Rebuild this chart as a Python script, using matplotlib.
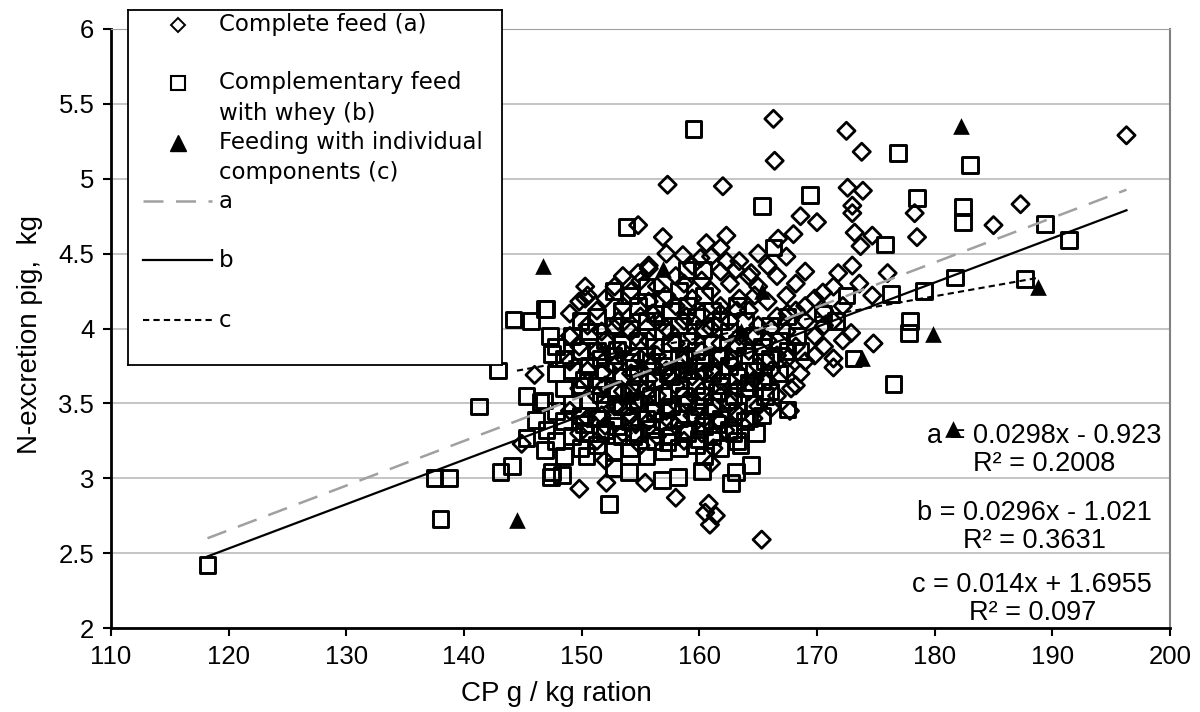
import matplotlib.pyplot as plt
import numpy as np

# ---- data ----
# series a : complete feed (diamonds)
a_x = [166.3, 166.4, 157.3, 162.0, 154.8, 156.9, 172.6, 173.9, 173.0, 173.0, 168.6, 170.0,
       178.5, 178.3, 173.2, 174.7, 173.7, 168.0, 166.7, 173.0, 171.8, 170.5, 174.7, 173.6,
       172.9, 171.4, 168.6, 167.8, 167.7, 174.8, 196.3, 185.0, 187.3, 176.0, 172.5, 173.8,
       158.6, 160.6, 162.3, 161.8, 160.1, 162.3, 163.1, 164.4, 155.7, 154.8, 150.3, 150.3,
       146.0, 144.9, 149.8, 152.1, 155.4, 158.0, 160.8, 160.5, 161.4, 160.9, 165.3, 161.0,
       161.2, 164.6, 162.2, 166.1,
       149.0, 149.0, 149.0, 149.0, 149.8, 149.8, 149.8, 149.8, 150.5, 150.5, 150.5, 150.5,
       151.3, 151.3, 151.3, 151.3, 152.0, 152.0, 152.0, 152.0, 152.0, 152.8, 152.8, 152.8, 152.8,
       153.5, 153.5, 153.5, 153.5, 153.5, 154.2, 154.2, 154.2, 154.2,
       155.0, 155.0, 155.0, 155.0, 155.0, 155.7, 155.7, 155.7, 155.7, 155.7,
       156.4, 156.4, 156.4, 156.4, 156.4, 157.2, 157.2, 157.2, 157.2, 157.2,
       158.0, 158.0, 158.0, 158.0, 158.0, 158.7, 158.7, 158.7, 158.7, 158.7,
       159.4, 159.4, 159.4, 159.4, 159.4, 160.2, 160.2, 160.2, 160.2, 160.2,
       161.0, 161.0, 161.0, 161.0, 161.0, 161.8, 161.8, 161.8, 161.8, 161.8,
       162.6, 162.6, 162.6, 162.6, 163.4, 163.4, 163.4, 163.4, 163.4,
       164.2, 164.2, 164.2, 164.2, 165.0, 165.0, 165.0, 165.0, 165.0,
       165.8, 165.8, 165.8, 165.8, 166.6, 166.6, 166.6, 166.6,
       167.4, 167.4, 167.4, 167.4, 168.2, 168.2, 168.2, 168.2, 169.0, 169.0, 169.0, 169.0,
       169.8, 169.8, 169.8, 170.6, 170.6, 170.6, 171.4, 171.4, 171.4, 172.2, 172.2,
       151.7, 151.7, 151.7, 153.1, 153.1, 153.1, 154.6, 154.6, 154.6, 156.0, 156.0, 156.0,
       157.5, 157.5, 157.5, 158.9, 158.9, 158.9, 160.4, 160.4, 160.4, 161.8, 161.8, 161.8,
       163.2, 163.2, 163.2, 164.7, 164.7, 164.7, 166.1, 166.1, 167.5, 167.5]
a_y = [5.40, 5.12, 4.96, 4.95, 4.69, 4.61, 4.94, 4.92, 4.82, 4.77, 4.75, 4.71,
       4.61, 4.77, 4.64, 4.62, 4.55, 4.63, 4.60, 4.42, 4.37, 4.24, 4.22, 4.30,
       3.97, 3.74, 3.70, 3.60, 3.45, 3.90, 5.29, 4.69, 4.83, 4.37, 5.32, 5.18,
       4.49, 4.57, 4.62, 4.54, 4.47, 4.45, 4.39, 4.37, 4.42, 4.37, 4.28, 4.20,
       3.69, 3.23, 2.93, 2.97, 2.97, 2.87, 2.83, 2.77, 2.75, 2.69, 2.59, 3.10,
       3.20, 3.40, 3.32, 3.47,
       3.45, 3.78, 3.95, 4.10, 3.30, 3.60, 3.88, 4.18, 3.40, 3.72, 4.02, 4.22,
       3.25, 3.55, 3.85, 4.12, 3.35, 3.62, 3.92, 4.20, 3.12, 3.48, 3.75, 4.00, 4.28,
       3.30, 3.58, 3.85, 4.15, 4.35, 3.42, 3.70, 3.98, 4.25,
       3.22, 3.52, 3.80, 4.08, 4.32, 3.38, 3.66, 3.92, 4.18, 4.40,
       3.28, 3.55, 3.82, 4.05, 4.28, 3.45, 3.72, 4.00, 4.22, 4.50,
       3.35, 3.62, 3.90, 4.15, 4.35, 3.25, 3.50, 3.78, 4.05, 4.30,
       3.42, 3.68, 3.95, 4.20, 4.42, 3.30, 3.58, 3.85, 4.10, 4.32,
       3.45, 3.72, 4.00, 4.25, 4.48, 3.38, 3.65, 3.90, 4.15, 4.38,
       3.50, 3.78, 4.05, 4.30, 3.42, 3.70, 3.95, 4.20, 4.45,
       3.58, 3.85, 4.12, 4.35, 3.48, 3.75, 4.02, 4.28, 4.50,
       3.65, 3.92, 4.18, 4.42, 3.55, 3.82, 4.08, 4.35,
       3.72, 3.98, 4.22, 4.48, 3.88, 4.12, 4.30, 3.62, 3.78, 4.05, 4.38, 4.15,
       3.95, 4.20, 3.82, 3.88, 4.12, 4.02, 3.80, 4.05, 4.28, 3.92, 4.15,
       3.42, 3.70, 3.98, 3.48, 3.78, 4.05, 3.36, 3.64, 3.94, 3.46, 3.76, 4.10,
       3.38, 3.68, 3.98, 3.52, 3.82, 4.08, 3.40, 3.70, 3.98, 3.55, 3.82, 4.10,
       3.60, 3.88, 4.12, 3.66, 3.95, 4.22, 3.72, 4.00, 3.80, 4.10]

# series b : complementary feed with whey (squares)
b_x = [118.2, 137.5, 138.7, 138.0, 141.3, 142.9, 143.1, 144.1, 144.2, 145.7, 146.9, 147.3,
       147.5, 145.3, 146.5, 146.1, 147.0, 145.3, 147.4, 146.9, 147.5, 148.3, 150.4, 152.3,
       152.7, 154.0, 156.8, 158.2, 160.2, 162.7, 163.1, 164.4, 159.5, 165.3, 153.8, 169.4,
       176.9, 178.5, 183.0, 182.4, 182.4, 189.4, 191.4, 181.7, 187.7, 179.1, 176.3, 177.9,
       177.8, 173.1, 176.5, 175.8, 172.5, 170.5, 171.6, 168.6, 167.5, 158.9, 160.3, 166.3,
       147.0, 146.8,
       147.8, 147.8, 147.8, 147.8, 148.5, 148.5, 148.5, 148.5, 149.2, 149.2, 149.2, 149.2,
       149.9, 149.9, 149.9, 149.9, 149.9, 150.6, 150.6, 150.6, 150.6,
       151.3, 151.3, 151.3, 151.3, 151.3, 152.0, 152.0, 152.0, 152.0,
       152.7, 152.7, 152.7, 152.7, 152.7, 152.7, 153.4, 153.4, 153.4, 153.4, 153.4,
       154.1, 154.1, 154.1, 154.1, 154.1, 154.1, 154.8, 154.8, 154.8, 154.8, 154.8,
       155.5, 155.5, 155.5, 155.5, 155.5, 155.5, 156.2, 156.2, 156.2, 156.2, 156.2,
       156.9, 156.9, 156.9, 156.9, 156.9, 156.9, 157.6, 157.6, 157.6, 157.6, 157.6,
       158.3, 158.3, 158.3, 158.3, 158.3, 158.3, 159.0, 159.0, 159.0, 159.0, 159.0,
       159.7, 159.7, 159.7, 159.7, 159.7, 160.4, 160.4, 160.4, 160.4, 160.4, 160.4,
       161.1, 161.1, 161.1, 161.1, 161.1, 161.8, 161.8, 161.8, 161.8, 161.8,
       162.5, 162.5, 162.5, 162.5, 163.2, 163.2, 163.2, 163.2, 163.2,
       163.9, 163.9, 163.9, 163.9, 164.6, 164.6, 164.6, 165.3, 165.3, 165.3,
       166.0, 166.0, 166.0, 166.8, 166.8, 167.5, 167.5, 168.3, 164.8, 163.5,
       150.2, 150.2, 151.6, 151.6, 151.6, 153.0, 153.0, 153.0, 154.4, 154.4, 154.4,
       155.9, 155.9, 155.9, 157.3, 157.3, 157.3, 158.7, 158.7, 158.7, 160.0, 160.0, 160.0,
       161.5, 161.5, 161.5, 162.9, 162.9, 162.9, 164.2, 164.2, 165.6, 165.6]
b_y = [2.42, 3.00, 3.00, 2.73, 3.48, 3.72, 3.04, 3.08, 4.06, 4.05, 4.13, 3.95,
       3.83, 3.55, 3.51, 3.39, 3.32, 3.27, 3.01, 3.19, 3.04, 3.02, 3.15, 2.83,
       3.07, 3.04, 2.99, 3.01, 3.05, 2.97, 3.04, 3.09, 5.33, 4.82, 4.68, 4.89,
       5.17, 4.87, 5.09, 4.81, 4.71, 4.70, 4.59, 4.34, 4.33, 4.25, 4.23, 4.05,
       3.97, 3.80, 3.63, 4.56, 4.22, 4.10, 4.05, 3.85, 3.46, 4.39, 4.39, 4.54,
       4.13, 3.52,
       3.25, 3.45, 3.70, 3.88, 3.15, 3.38, 3.60, 3.80, 3.28, 3.50, 3.72, 3.95,
       3.20, 3.42, 3.62, 3.85, 4.05, 3.30, 3.52, 3.75, 3.98,
       3.22, 3.40, 3.62, 3.85, 4.08, 3.32, 3.50, 3.72, 3.92,
       3.18, 3.40, 3.60, 3.82, 4.02, 4.25, 3.28, 3.48, 3.68, 3.90, 4.12,
       3.20, 3.38, 3.58, 3.78, 4.00, 4.22, 3.30, 3.50, 3.70, 3.92, 4.15,
       3.15, 3.40, 3.60, 3.82, 4.05, 4.28, 3.25, 3.45, 3.65, 3.88, 4.10,
       3.18, 3.38, 3.55, 3.75, 3.98, 4.20, 3.28, 3.48, 3.68, 3.90, 4.12,
       3.20, 3.40, 3.60, 3.82, 4.02, 4.25, 3.30, 3.50, 3.72, 3.92, 4.15,
       3.22, 3.42, 3.62, 3.85, 4.08, 3.15, 3.35, 3.55, 3.78, 4.00, 4.22,
       3.28, 3.48, 3.70, 3.90, 4.12, 3.20, 3.40, 3.62, 3.82, 4.05,
       3.32, 3.52, 3.75, 3.98, 3.25, 3.45, 3.68, 3.90, 4.15,
       3.38, 3.60, 3.82, 4.05, 3.50, 3.72, 3.95, 3.42, 3.65, 3.88,
       3.58, 3.80, 4.02, 3.70, 3.92, 3.85, 4.08, 3.95, 3.30, 3.22,
       3.36, 3.66, 3.30, 3.56, 3.80, 3.35, 3.58, 3.86, 3.28, 3.52, 3.74,
       3.33, 3.55, 3.78, 3.24, 3.46, 3.70, 3.32, 3.55, 3.80, 3.26, 3.48, 3.72,
       3.36, 3.58, 3.82, 3.30, 3.55, 3.80, 3.40, 3.64, 3.55, 3.78]

# series c : feeding with individual components (triangles)
c_x = [146.7, 156.9, 144.5, 182.2, 188.8, 179.9, 173.8, 181.6, 165.3, 163.5, 159.0, 154.0]
c_y = [4.42, 4.40, 2.72, 5.35, 4.28, 3.96, 3.80, 3.33, 4.25, 3.98, 3.75, 3.55]

# trend lines (as printed on the chart)
fit_a = (0.0298, -0.923)
fit_b = (0.0296, -1.021)
fit_c = (0.014, 1.6955)
eq_a = "a = 0.0298x - 0.923\nR² = 0.2008"
eq_b = "b = 0.0296x - 1.021\nR² = 0.3631"
eq_c = "c = 0.014x + 1.6955\nR² = 0.097"

legend_labels = ["Complete feed (a)", "Complementary feed", "with whey (b)",
                 "Feeding with individual", "components (c)", "a", "b", "c"]

W, H = 1200, 712
fig = plt.figure(figsize=(12, 7.12), dpi=100)
ax = fig.add_axes([111 / W, 1 - 628 / H, (1170 - 111) / W, (628 - 29) / H])

grey = "#a0a0a0"
ax.scatter(a_x, a_y, marker="D", s=8.8 ** 2, facecolors="none", edgecolors="black",
           linewidths=2.0, zorder=3)
ax.scatter(b_x, b_y, marker="s", s=11.3 ** 2, facecolors="none", edgecolors="black",
           linewidths=2.1, zorder=3)
ax.scatter(c_x, c_y, marker="^", s=12 ** 2, color="black", linewidths=0, zorder=6)

all_x = a_x + b_x + c_x
xs = np.array([min(all_x), max(all_x)])
ax.plot(xs, fit_a[0] * xs + fit_a[1], color=grey, lw=1.8, dashes=(8, 5), zorder=4)
ax.plot(xs, fit_b[0] * xs + fit_b[1], color="black", lw=1.6, zorder=4)
xc = np.array([min(c_x), max(c_x)])
ax.plot(xc, fit_c[0] * xc + fit_c[1], color="black", lw=1.5, dashes=(3, 2), zorder=4)

eq_font = dict(family="Liberation Sans", fontsize=19.5, ha="center", va="center",
               linespacing=1.12, zorder=5)
ax.text(189.3, 3.19, eq_a, **eq_font)
ax.text(188.5, 2.675, eq_b, **eq_font)
ax.text(188.3, 2.195, eq_c, **eq_font)

ax.set_xlim(110, 200)
ax.set_ylim(2, 6)
ax.set_xticks(np.arange(110, 201, 10))
ax.set_yticks(np.arange(2, 6.01, 0.5))
ax.set_yticklabels(["2", "2.5", "3", "3.5", "4", "4.5", "5", "5.5", "6"])
ax.tick_params(labelsize=18.5, length=6, width=1.5, color="black", pad=6)
for lab in ax.get_xticklabels() + ax.get_yticklabels():
    lab.set_family("Liberation Sans")
ax.yaxis.grid(True, color="#c0c0c0", lw=1.3)
ax.set_axisbelow(True)
ax.spines["left"].set_linewidth(2)
ax.spines["bottom"].set_linewidth(2)
ax.spines["top"].set_color("#a0a0a0")
ax.spines["right"].set_color("#808080")
ax.spines["right"].set_linewidth(1.5)

ax.set_xlabel("CP g / kg ration", family="Liberation Sans", fontsize=20)
ax.set_ylabel("N-excretion pig,  kg", family="Liberation Sans", fontsize=20)
ax.xaxis.set_label_coords(0.421, -0.088)
ax.yaxis.set_label_coords(-0.064, 0.49)

# legend box drawn in pixel-like coordinates
lg = fig.add_axes([128 / W, 1 - 365 / H, (502 - 128) / W, (365 - 10) / H])
lg.set_xlim(0, 374)
lg.set_ylim(355, 0)
lg.set_xticks([])
lg.set_yticks([])
for sp in lg.spines.values():
    sp.set_linewidth(1.3)
lgf = dict(family="DejaVu Sans", fontsize=16.5, va="center", ha="left")
lg.plot([50], [15], marker="D", ms=7.5, mfc="none", mec="black", mew=1.4)
lg.text(91, 15, legend_labels[0], **lgf)
lg.plot([50], [73], marker="s", ms=10.5, mfc="none", mec="black", mew=1.5)
lg.text(91, 73, legend_labels[1], **lgf)
lg.text(91, 104, legend_labels[2], **lgf)
lg.plot([50], [133], marker="^", ms=11, color="black")
lg.text(91, 133, legend_labels[3], **lgf)
lg.text(91, 163, legend_labels[4], **lgf)
lg.plot([15, 84], [191, 191], color=grey, lw=1.8, dashes=(8, 5))
lg.text(91, 192, legend_labels[5], **lgf)
lg.plot([15, 84], [250, 250], color="black", lw=1.6)
lg.text(91, 251, legend_labels[6], **lgf)
lg.plot([15, 84], [310, 310], color="black", lw=1.5, dashes=(3, 2))
lg.text(91, 311, legend_labels[7], **lgf)

fig.savefig("out.png", dpi=100)
